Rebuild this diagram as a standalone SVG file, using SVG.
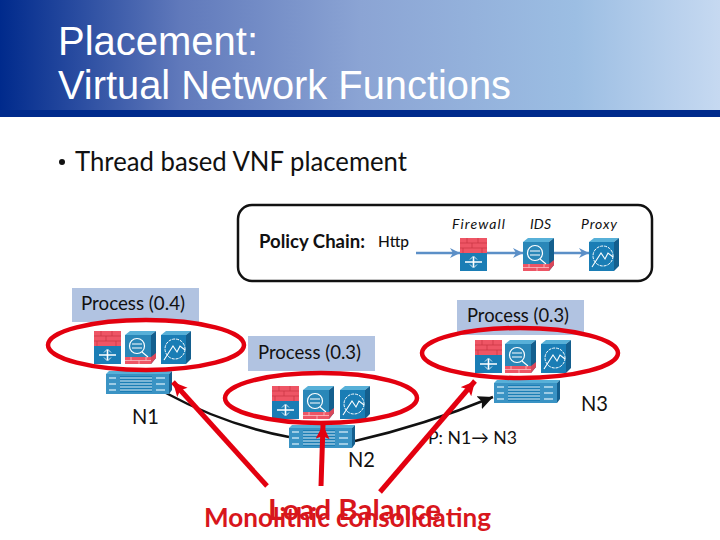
<svg xmlns="http://www.w3.org/2000/svg" width="720" height="540" viewBox="0 0 720 540">
<style>
.t{font-family:"Liberation Sans",Arial,sans-serif;fill:#fff}
.c{font-family:Lato,"Open Sans",sans-serif;fill:#111}
.box{fill:#b1c3e1}
.ring{fill:none;stroke:#e3000f;stroke-width:4.5}
.blue{stroke:#5b8fc7;stroke-width:2.5;fill:none;marker-end:url(#ab)}
.red{stroke:#e3000f;stroke-width:5;fill:none;marker-end:url(#ar)}
.blk{stroke:#111;stroke-width:2.5;fill:none}
.mono{font-family:Lato,"Open Sans",sans-serif;font-weight:700;fill:#d8161c}
</style>
<defs>
<linearGradient id="hdr" x1="0" x2="1" y1="0" y2="0">
<stop offset="0" stop-color="#002a8c"/><stop offset=".25" stop-color="#6079bb"/><stop offset=".5" stop-color="#8ba4d4"/><stop offset=".8" stop-color="#9cbee3"/><stop offset="1" stop-color="#c6d9f1"/>
</linearGradient>
<marker id="ab" markerUnits="userSpaceOnUse" markerWidth="12" markerHeight="12" refX="10" refY="5" orient="auto"><path d="M0 0L10 5L0 10L3 5Z" fill="#5b8fc7"/></marker>
<marker id="ar" markerUnits="userSpaceOnUse" markerWidth="18" markerHeight="18" refX="14" refY="7" orient="auto"><path d="M0 0L14 7L0 14L3 7Z" fill="#e3000f"/></marker>
<marker id="ak" markerUnits="userSpaceOnUse" markerWidth="18" markerHeight="18" refX="15" refY="7" orient="auto"><path d="M0 0L15 7L0 14L3 7Z" fill="#111"/></marker>
<g id="fw">
<rect x="0" y="0" width="27" height="15" fill="#ee5565"/>
<rect x="0" y="15" width="27" height="18" fill="#1a7db5"/>
<path d="M0 5H27M0 10H27M7 0V5M18 0V5M12 5V10M3 10V15M22 10V15" stroke="#c73444" stroke-width=".7" fill="none"/>
<path d="M5 24H22M13.5 19V29" stroke="#fff" stroke-width="1.6"/>
<path d="M10 21.500L13.500 18L17 21.500M10 26.500L13.500 30L17 26.500" fill="none" stroke="#fff" stroke-width=".8"/>
</g>
<g id="ids">
<path d="M0 4L5 0H31L26 4Z" fill="#57b0d8"/><path d="M26 4L31 0V27L26 33Z" fill="#145f8e"/>
<rect x="0" y="4" width="26" height="23" fill="#2a87b8"/>
<rect x="0" y="26" width="26" height="7" fill="#ee5565"/>
<path d="M26 26L31 22V27L26 33Z" fill="#d9475a"/>
<path d="M0 29.500H26M6 26V29.500M14 29.500V33M21 26V29.500" stroke="#fbd0d4" stroke-width=".7" fill="none"/>
<circle cx="12" cy="15" r="7.500" fill="none" stroke="#fff" stroke-width="1.200"/>
<path d="M17 21L23 26M7 13H17M7 17H17" stroke="#fff" stroke-width="1.100"/>
</g>
<g id="px">
<path d="M0 4L5 0H30L25 4Z" fill="#57b0d8"/><path d="M25 4L30 0V28L25 33Z" fill="#145f8e"/>
<rect x="0" y="4" width="25" height="29" fill="#1a7db5"/>
<circle cx="14" cy="18" r="10" fill="none" stroke="#fff" stroke-width="1" stroke-dasharray="3 1"/>
<path d="M3 29L12 15L16 21L19 15L24 19" stroke="#fff" stroke-width="1.100" fill="none"/>
</g>
<g id="sw">
<path d="M0 3L3 0H66L63 3Z" fill="#57b0d8"/><path d="M63 3L66 0V19L63 23Z" fill="#145f8e"/>
<rect x="0" y="3" width="63" height="20" fill="#3a93c4"/>
<rect x="14" y="5" width="32" height="16" fill="#1a7db5"/>
<path d="M14 7H46M14 10H46M14 13H46M14 16H46M14 19H46" stroke="#dff0f8" stroke-width="1"/>
<path d="M3 7H10M3 13H10M3 19H10M50 7H59M50 13H59M50 19H59" stroke="#bfe0f0" stroke-width="1.500"/>
</g>
</defs>

<g id="header">
<rect x="0" y="0" width="720" height="111" fill="url(#hdr)"/>
<rect x="0" y="110" width="720" height="7" fill="#002a8c"/>
<text class="t" x="58" y="55" font-size="40" textLength="200" lengthAdjust="spacingAndGlyphs">Placement:</text>
<text class="t" x="58" y="99" font-size="40" textLength="453" lengthAdjust="spacingAndGlyphs">Virtual Network Functions</text>
</g>
<circle id="bullet" cx="62" cy="162" r="3" fill="#111"/>
<text id="subtitle" class="c" x="75" y="171" font-size="27" textLength="332" lengthAdjust="spacingAndGlyphs">Thread based VNF placement</text>

<g id="policy">
<rect x="238" y="205" width="414" height="76" rx="14" fill="#fff" stroke="#111" stroke-width="2.500"/>
<text class="c" x="259" y="248" font-size="18" font-weight="700" textLength="106" lengthAdjust="spacingAndGlyphs">Policy Chain:</text>
<text class="c" x="378" y="247" font-size="15" font-weight="500" textLength="31" lengthAdjust="spacingAndGlyphs">Http</text>
<text class="c" x="452" y="229" font-size="14" font-style="italic" textLength="53">Firewall</text>
<text class="c" x="530" y="229" font-size="14" font-style="italic" textLength="21">IDS</text>
<text class="c" x="581" y="229" font-size="14" font-style="italic" textLength="36">Proxy</text>
<use href="#fw" x="460" y="238"/><use href="#ids" x="523" y="238"/><use href="#px" x="589" y="238"/>
</g>

<g id="connectors">
<path class="blue" d="M416 253H460"/><path class="blue" d="M487 253H523"/><path class="blue" d="M554 253H589"/>
<path class="blk" d="M166 393Q225 425 289 437"/>
<path class="blk" d="M355 441Q425 425 493 397" marker-end="url(#ak)"/>
</g>

<g id="node1">
<rect class="box" x="72" y="288" width="127" height="34"/>
<text class="c" x="81" y="310" font-size="19" textLength="104" lengthAdjust="spacingAndGlyphs">Process (0.4)</text>
<use href="#fw" x="94" y="331"/><use href="#ids" x="125" y="331"/><use href="#px" x="161" y="331"/>
<use href="#sw" x="106" y="371"/>
<ellipse class="ring" cx="146" cy="345" rx="98" ry="25"/>
<text class="c" x="132" y="424" font-size="22" textLength="27" lengthAdjust="spacingAndGlyphs">N1</text>
</g>
<g id="node2">
<rect class="box" x="248" y="336" width="127" height="35"/>
<text class="c" x="258" y="359" font-size="19" textLength="103" lengthAdjust="spacingAndGlyphs">Process (0.3)</text>
<use href="#fw" x="272" y="386"/><use href="#ids" x="303" y="386"/><use href="#px" x="340" y="386"/>
<use href="#sw" x="289" y="425"/>
<ellipse class="ring" cx="321" cy="398" rx="96" ry="25"/>
<text class="c" x="348" y="467" font-size="22" textLength="27" lengthAdjust="spacingAndGlyphs">N2</text>
</g>
<g id="node3">
<rect class="box" x="457" y="300" width="127" height="35"/>
<text class="c" x="467" y="322" font-size="19" textLength="102" lengthAdjust="spacingAndGlyphs">Process (0.3)</text>
<use href="#fw" x="475" y="340"/><use href="#ids" x="505" y="340"/><use href="#px" x="541" y="340"/>
<use href="#sw" x="494" y="380"/>
<ellipse class="ring" cx="520" cy="353" rx="98" ry="25"/>
<text class="c" x="581" y="411" font-size="22" textLength="27" lengthAdjust="spacingAndGlyphs">N3</text>
</g>
<text id="path-label" class="c" x="428" y="444" font-size="18" textLength="89" lengthAdjust="spacingAndGlyphs">P: N1→ N3</text>

<g id="red-arrows">
<path class="red" d="M267 486L173 382"/>
<path class="red" d="M321 486L323 425"/>
<path class="red" d="M380 492L475 381"/>
</g>
<text id="load" class="mono" x="268" y="520" font-size="28" textLength="173" lengthAdjust="spacingAndGlyphs">Load Balance</text>
<text id="mono" class="mono" x="204" y="527" font-size="26" textLength="287" lengthAdjust="spacingAndGlyphs">Monolithic consolidating</text>
</svg>
